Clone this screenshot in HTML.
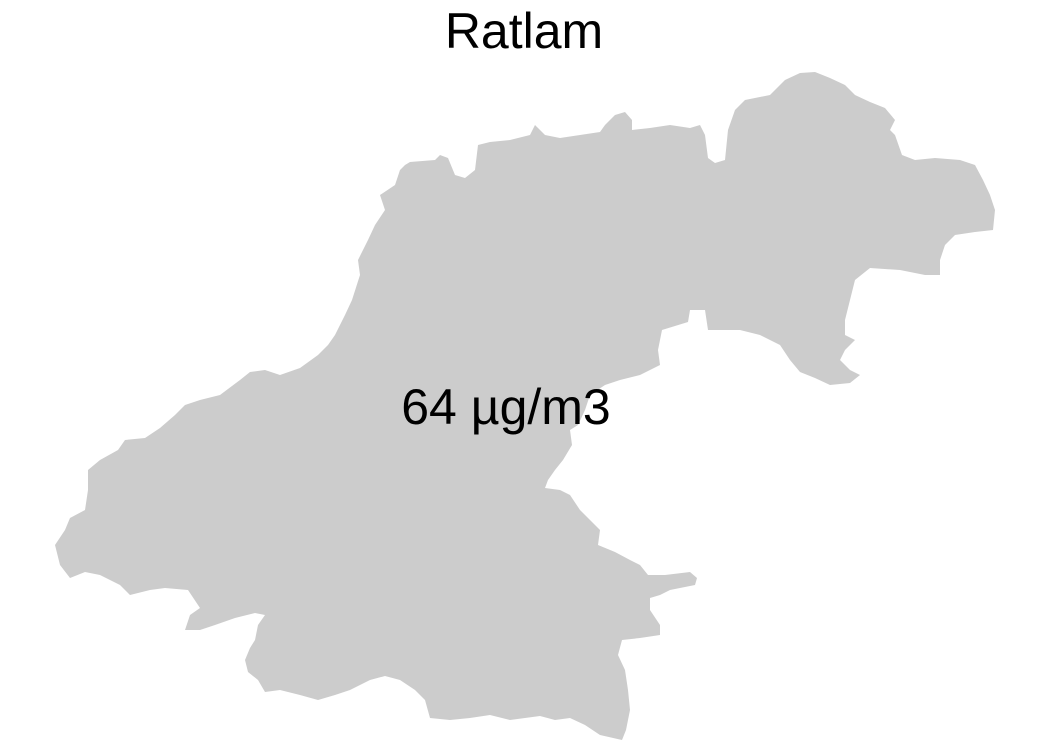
<!DOCTYPE html>
<html><head><meta charset="utf-8"><style>
html,body{margin:0;padding:0;background:#fff;width:1048px;height:750px;overflow:hidden}
svg{display:block}
text{font-family:"Liberation Sans",Arial,sans-serif;fill:#000}
</style></head><body>
<svg width="1048" height="750" viewBox="0 0 1048 750">
<text x="524" y="48" font-size="50" text-anchor="middle">Ratlam</text>
<polygon fill="#cccccc" stroke="none" points="405,165 410,162 435,160 440,155 448,158 455,175 465,178 475,170 478,145 490,142 510,140 530,135 535,125 545,135 560,138 580,135 600,132 605,125 615,115 625,112 632,120 632,130 650,128 670,125 690,128 700,125 705,135 708,158 715,163 725,160 728,130 735,110 745,100 770,95 785,80 800,73 815,72 830,78 845,85 855,95 870,102 885,108 895,120 890,130 895,135 902,155 915,160 935,158 960,160 975,165 983,180 990,195 995,210 993,230 975,232 955,235 945,245 940,260 940,275 925,275 900,270 870,268 855,280 850,300 845,320 845,335 855,340 845,350 840,360 850,370 860,375 850,383 830,385 815,378 800,372 790,360 780,345 760,335 740,330 720,330 708,330 705,310 690,310 688,322 662,330 658,350 660,365 640,375 620,380 605,385 590,395 585,410 578,425 570,430 572,445 563,460 555,470 548,480 545,488 560,490 570,495 580,510 590,520 600,530 598,545 615,552 630,560 640,565 648,575 665,575 690,572 697,578 695,585 670,590 660,595 650,598 650,610 660,625 660,635 640,638 622,640 618,655 625,670 628,690 630,710 626,730 622,740 600,735 585,725 570,718 555,720 540,716 510,720 490,715 470,718 450,720 430,718 425,700 415,690 400,680 385,676 370,680 350,690 335,695 318,700 300,695 280,690 265,692 258,680 248,672 245,660 250,648 255,640 258,625 265,615 255,613 235,618 215,625 200,630 185,630 190,615 200,608 188,590 165,588 150,590 130,595 120,585 100,575 85,572 70,578 60,565 55,545 65,530 70,518 85,510 88,490 88,470 100,460 118,450 125,440 145,438 160,428 175,415 185,405 200,400 220,395 240,380 250,372 265,370 280,375 300,368 318,355 328,345 335,335 345,315 352,300 360,275 358,260 368,240 375,225 385,210 380,195 395,185 400,170"/>
<text x="506" y="424" font-size="50" text-anchor="middle">64 µg/m3</text>
</svg>
</body></html>
